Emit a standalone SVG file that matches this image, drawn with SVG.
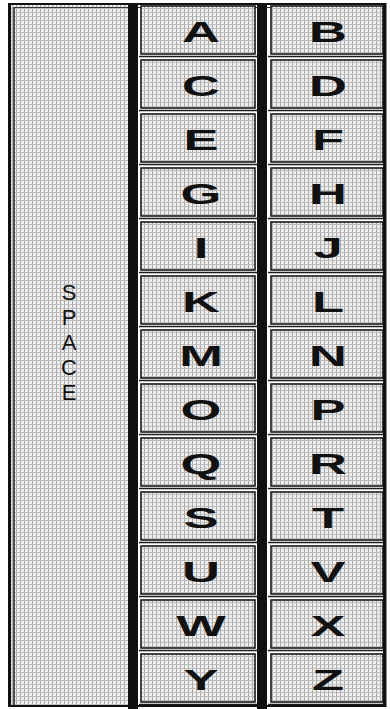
<svg xmlns="http://www.w3.org/2000/svg" width="390" height="709" viewBox="0 0 390 709">
<style>
.k{font-family:"Liberation Sans",Arial,sans-serif;font-weight:bold;font-size:30px;fill:#111;text-anchor:middle}
.sp{font-family:"Liberation Sans",Arial,sans-serif;font-size:22px;fill:#111;writing-mode:vertical-rl;text-orientation:upright}
.cell{fill:url(#hatch);stroke:#1a1a1a;stroke-width:1.6}
.bar{fill:#111}
</style>
<defs>
<pattern id="hatch" width="4" height="4" patternUnits="userSpaceOnUse">
<rect width="4" height="4" fill="#eeeeee"/>
<rect x="0" y="0" width="1" height="4" fill="#a8a8a8"/>
<rect x="0" y="0" width="4" height="1" fill="#bdbdbd"/>
</pattern>
<symbol id="row" overflow="visible">
<rect class="cell" x="141" y="2" width="114" height="48"/>
<rect class="cell" x="271" y="2" width="112" height="48"/>
<line x1="139" y1="52.5" x2="257" y2="52.5" stroke="#1a1a1a" stroke-width="1.5"/>
<line x1="268" y1="52.5" x2="385" y2="52.5" stroke="#1a1a1a" stroke-width="1.5"/>
</symbol>
</defs>
<rect x="0" y="0" width="390" height="709" fill="#ffffff"/>
<g id="space">
<rect x="9" y="4" width="120" height="702" fill="url(#hatch)"/>
<line x1="9.5" y1="3" x2="9.5" y2="707" stroke="#111" stroke-width="3"/>
<line x1="14" y1="7" x2="14" y2="706" stroke="#222" stroke-width="1.5"/>
<line x1="8" y1="4" x2="386" y2="4" stroke="#111" stroke-width="2"/>
<line x1="14" y1="7.5" x2="383" y2="7.5" stroke="#333" stroke-width="1"/>
<line x1="8" y1="706" x2="386" y2="706" stroke="#111" stroke-width="2"/>
<text class="sp" x="69" y="280">SPACE</text>
</g>
<g id="grid">
<use href="#row" y="4"/><use href="#row" y="58"/><use href="#row" y="112"/><use href="#row" y="166"/>
<use href="#row" y="220"/><use href="#row" y="274"/><use href="#row" y="328"/><use href="#row" y="382"/>
<use href="#row" y="436"/><use href="#row" y="490"/><use href="#row" y="544"/><use href="#row" y="598"/>
<use href="#row" y="652"/>
</g>
<g id="bars">
<rect class="bar" x="128" y="3" width="10" height="706"/>
<rect class="bar" x="257" y="3" width="10" height="706"/>
<rect class="bar" x="383" y="3" width="3.5" height="704"/>
</g>
<g id="keys">
<text class="k" transform="translate(201,42) scale(1.75,1)">A</text>
<text class="k" transform="translate(328,42) scale(1.75,1)">B</text>
<text class="k" transform="translate(201,96) scale(1.75,1)">C</text>
<text class="k" transform="translate(328,96) scale(1.75,1)">D</text>
<text class="k" transform="translate(201,150) scale(1.75,1)">E</text>
<text class="k" transform="translate(328,150) scale(1.75,1)">F</text>
<text class="k" transform="translate(201,204) scale(1.75,1)">G</text>
<text class="k" transform="translate(328,204) scale(1.75,1)">H</text>
<text class="k" transform="translate(201,258) scale(1.75,1)">I</text>
<text class="k" transform="translate(328,258) scale(1.75,1)">J</text>
<text class="k" transform="translate(201,312) scale(1.75,1)">K</text>
<text class="k" transform="translate(328,312) scale(1.75,1)">L</text>
<text class="k" transform="translate(201,366) scale(1.75,1)">M</text>
<text class="k" transform="translate(328,366) scale(1.75,1)">N</text>
<text class="k" transform="translate(201,420) scale(1.75,1)">O</text>
<text class="k" transform="translate(328,420) scale(1.75,1)">P</text>
<text class="k" transform="translate(201,474) scale(1.75,1)">Q</text>
<text class="k" transform="translate(328,474) scale(1.75,1)">R</text>
<text class="k" transform="translate(201,528) scale(1.75,1)">S</text>
<text class="k" transform="translate(328,528) scale(1.75,1)">T</text>
<text class="k" transform="translate(201,582) scale(1.75,1)">U</text>
<text class="k" transform="translate(328,582) scale(1.75,1)">V</text>
<text class="k" transform="translate(201,636) scale(1.75,1)">W</text>
<text class="k" transform="translate(328,636) scale(1.75,1)">X</text>
<text class="k" transform="translate(201,690) scale(1.75,1)">Y</text>
<text class="k" transform="translate(328,690) scale(1.75,1)">Z</text>
</g>
</svg>
